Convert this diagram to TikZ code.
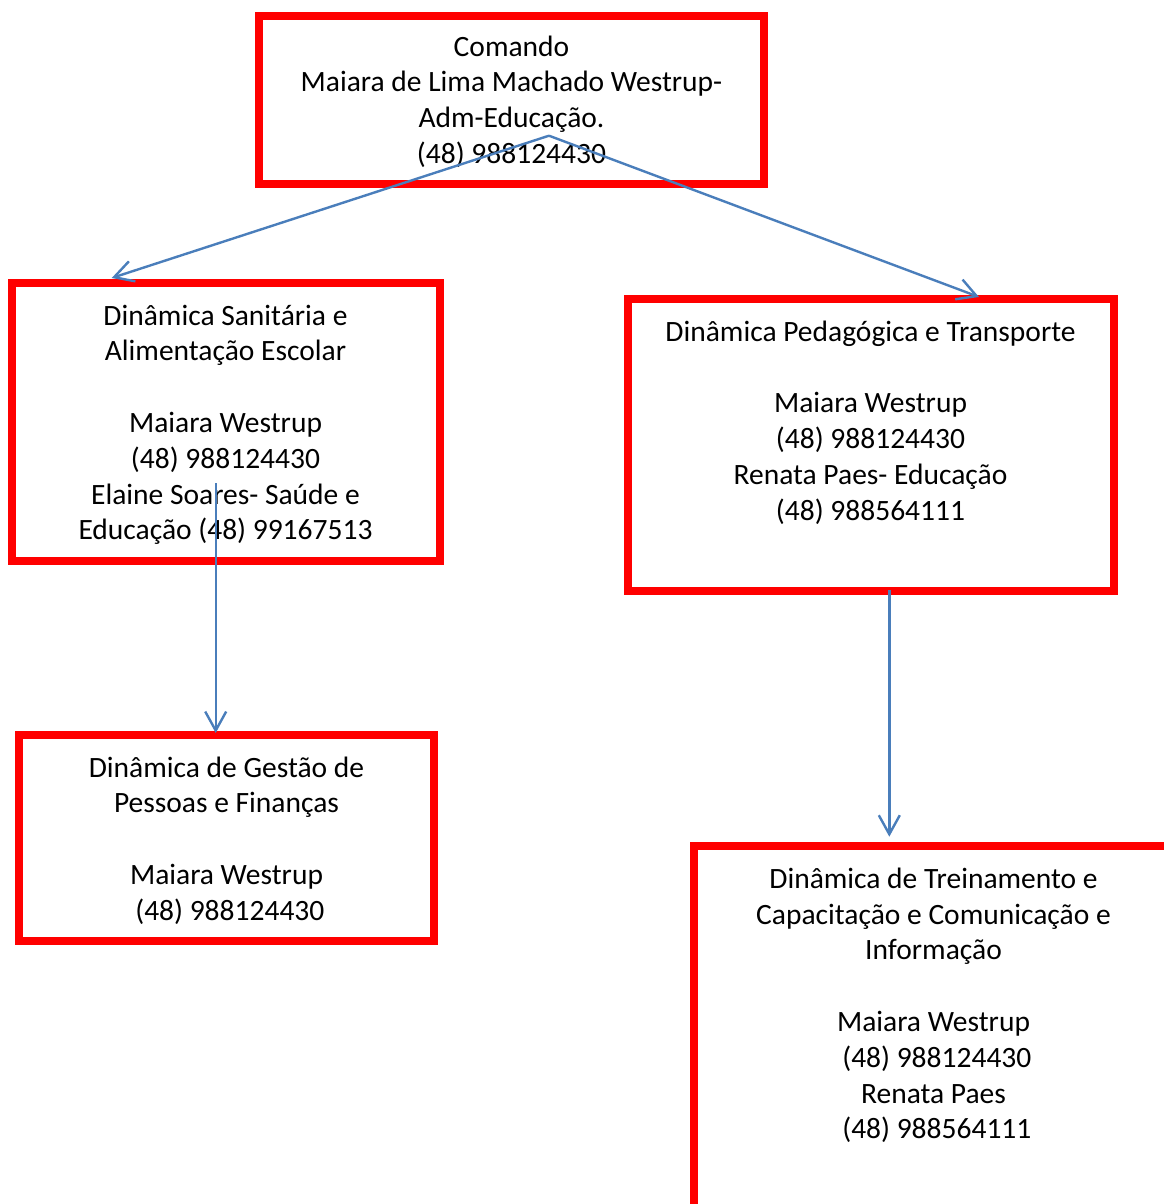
\documentclass[tikz,border=0pt]{standalone}
\usepackage{fontspec}
\setmainfont{Carlito}
\usetikzlibrary{arrows.meta}
\definecolor{boxred}{RGB}{255,0,0}
\definecolor{lineblue}{RGB}{74,126,187}
\tikzset{
  redbox/.style={draw=boxred, line width=8pt},
  txt/.style={align=center, inner sep=0pt, font=\fontsize{29.5}{35.8}\selectfont, text=black},
  conn/.style={draw=lineblue, line width=2.4pt, -{Straight Barb[length=19pt,width=21pt,line width=2.4pt]}}
}
\begin{document}
\begin{tikzpicture}[x=1pt,y=-1pt]
\useasboundingbox (0,0) rectangle (1163,1204);
% boxes
\draw[redbox] (258.5,16) rectangle (764,184);
\draw[redbox] (11.5,282.5) rectangle (439.5,560.7);
\draw[redbox] (627.5,298.5) rectangle (1114,590.7);
\draw[redbox] (19,735) rectangle (434,941);
\draw[redbox] (693.5,846) rectangle (1180,1220);
% texts (anchor base = baseline of last line)
\node[txt, anchor=base] (t0) at (511.5,163.5) {Comando\\Maiara de Lima Machado Westrup-\\Adm-Educação.\\(48) 988124430};
\node[txt, anchor=base] (t1) at (225.5,539.8) {Dinâmica Sanitária e\\Alimentação Escolar\\\mbox{}\\Maiara Westrup\\(48) 988124430\\Elaine Soares- Saúde e\\Educação (48) 99167513};
\node[txt, anchor=base] (t2) at (870.5,520) {Dinâmica Pedagógica e Transporte\\\mbox{}\\Maiara Westrup\\(48) 988124430\\Renata Paes- Educação\\(48) 988564111};
\node[txt, anchor=base] (t3) at (226.5,920.2) {Dinâmica de Gestão de\\Pessoas e Finanças\\\mbox{}\\Maiara Westrup\\\ (48) 988124430};
\node[txt, anchor=base] (t4) at (933.5,1138.9) {Dinâmica de Treinamento e\\Capacitação e Comunicação e\\Informação\\\mbox{}\\Maiara Westrup\\\ (48) 988124430\\Renata Paes\\\ (48) 988564111};
% connectors
\coordinate (s0) at (549,135.7);
\coordinate (e1) at (111.7,278);
\coordinate (e2) at (979,297);
\coordinate (s3) at (215.7,483);
\coordinate (e3) at (215.7,733);
\coordinate (s4) at (889.3,590);
\coordinate (e4) at (889.3,836.7);
\draw[conn] (s0) -- (e1);
\draw[conn] (s0) -- (e2);
\draw[conn] (s3) -- (e3);
\draw[conn] (s4) -- (e4);
\end{tikzpicture}
\end{document}
